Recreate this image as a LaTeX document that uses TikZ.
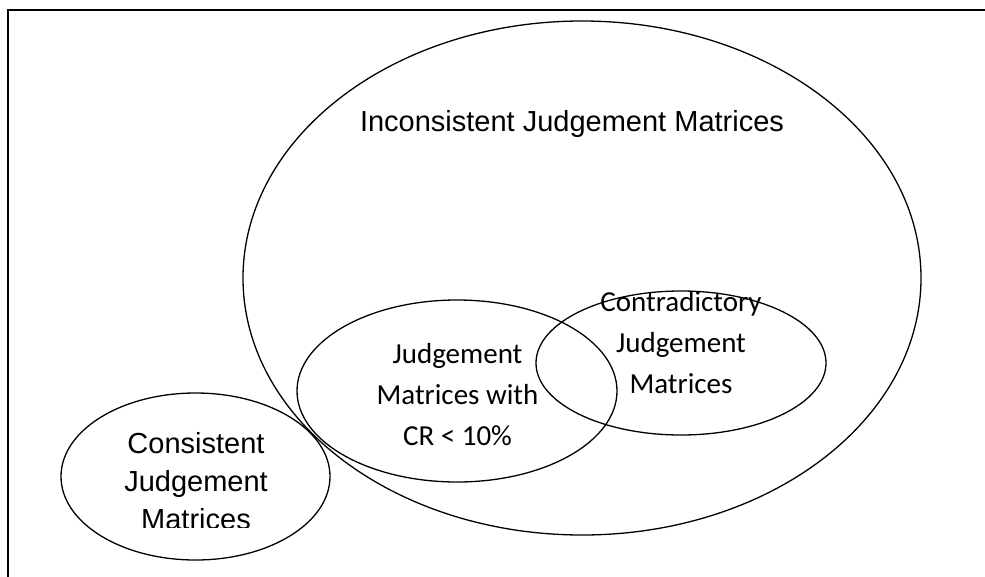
\documentclass[tikz,border=0pt]{standalone}
\usepackage{fontspec}
\setmainfont{Liberation Sans}
\newfontfamily\carlito{Carlito}
\usetikzlibrary{shapes.geometric}
\newcommand{\setEllipse}[5]{%%
  \node[setStyle,minimum width=#4,minimum height=#5] (#1) at (#2,#3) {};
}

\begin{document}
\begin{tikzpicture}[x=1pt,y=-1pt,%%
  setStyle/.style={ellipse,draw,line width=1.3pt,inner sep=0pt},%%
  arialStyle/.style={font=\fontsize{29}{38}\selectfont,align=center,inner sep=0pt,anchor=base},%%
  calibriStyle/.style={font=\carlito\fontsize{29}{41}\selectfont,align=center,inner sep=0pt,anchor=base},%%
  frameStyle/.style={line width=2pt}
]
%%
\useasboundingbox (0,0) rectangle (985,576);
\coordinate (frameBottom) at (7.5,577);
\coordinate (frameCorner) at (7.5,9.5);
\coordinate (frameRight) at (986,9.5);
%%
%% The frame (cut off at the right and bottom).
\draw[frameStyle] (frameBottom) -- (frameCorner) -- (frameRight);
%%
%% The sets.
\setEllipse{inconsistent}{582}{278}{678}{514}
\setEllipse{consistent}{195.5}{476.5}{269}{167}
\setEllipse{lowCR}{457}{391}{320}{182}
\setEllipse{contradictory}{681}{363}{290}{144}
%%
%% The labels (base anchor = last line).
\node[arialStyle] (inconsistentText) at (572,131.7) {Inconsistent Judgement Matrices};
\node[calibriStyle] (lowCRText) at (457.5,445) {Judgement\\Matrices with\\CR < 10\%};
\node[calibriStyle] (contradictoryText) at (681,393) {Contradictory\\Judgement\\Matrices};
\begin{scope}
  \clip (0,0) rectangle (985,527.7);
  \node[arialStyle] (consistentText) at (196,529) {Consistent\\Judgement\\Matrices};
\end{scope}
\end{tikzpicture}
\end{document}
